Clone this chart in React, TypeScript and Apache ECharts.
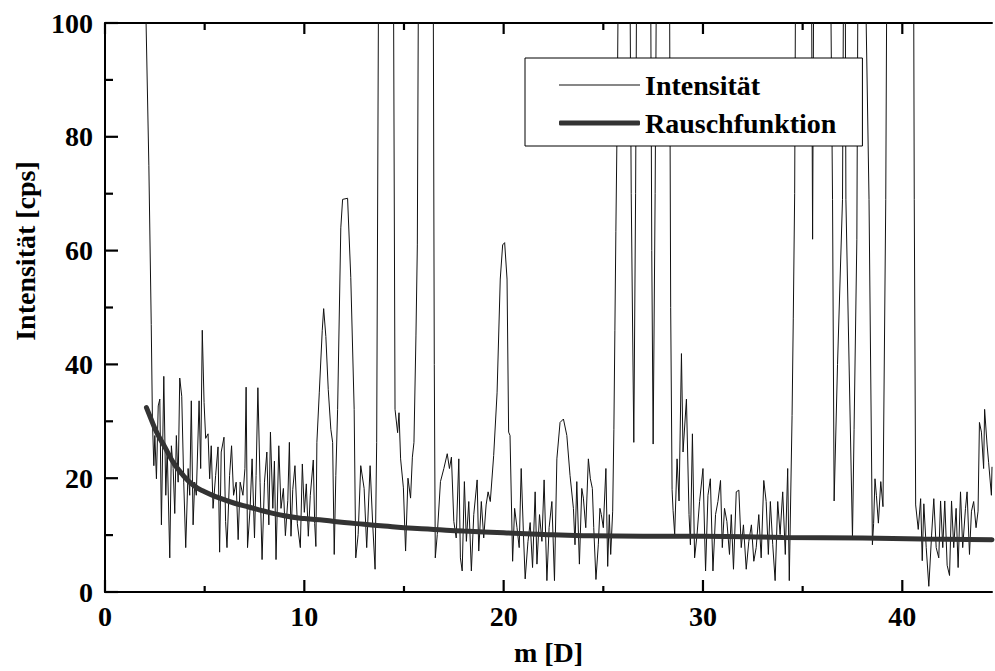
import React, { useEffect, useRef } from "react";
import * as echarts from "echarts";

// x-axis ticks (m [D]) and y-axis ticks (Intensität [cps])
const xTickLabels = [0, 10, 20, 30, 40];
const xMinorTicks = [5, 15, 25, 35];
const yTickLabels = [0, 20, 40, 60, 80, 100];
const yMinorTicks = [10, 30, 50, 70, 90];

// Intensität: measured trace, [m, cps]; values above 100 leave the plot
const intensityA: [number, number][] = [
  [2.0, 130], [2.05, 102], [2.2, 75], [2.32, 47], [2.38, 30], [2.45, 22.2], [2.5, 27.5], [2.58, 19.9],
  [2.67, 32.7], [2.75, 33.9], [2.83, 11.8], [2.95, 37.9], [3.05, 17], [3.12, 25.2], [3.25, 6],
  [3.33, 25.7], [3.42, 21.7], [3.5, 13.8], [3.58, 27.5], [3.67, 19.3], [3.75, 37.6], [3.85, 34.4],
  [3.95, 19.3], [4.05, 7.8], [4.17, 21.7], [4.25, 17], [4.33, 33.6], [4.42, 11.8], [4.5, 19.3],
  [4.58, 17], [4.72, 33.6], [4.8, 21.7], [4.88, 46], [4.97, 33.3], [5.05, 27], [5.17, 27.8],
  [5.25, 19.9], [5.33, 25.7], [5.42, 14.7], [5.55, 20.5], [5.67, 25.5], [5.75, 7], [5.83, 24.6],
  [5.97, 27.2], [6.05, 12.4], [6.12, 7.8], [6.25, 20.5], [6.35, 25.7], [6.45, 17], [6.58, 19.3],
  [6.68, 9.2], [6.78, 19.3], [6.92, 17], [7.02, 21.7], [7.08, 36], [7.15, 7.8], [7.28, 14.7],
  [7.38, 23.4], [7.5, 9.5], [7.58, 20.5], [7.67, 35.9], [7.78, 19.3], [7.88, 5.7], [8.0, 19.3],
  [8.12, 24.6], [8.22, 11.8], [8.3, 28.1], [8.42, 14.7], [8.5, 23], [8.58, 5.7], [8.72, 25.7],
  [8.83, 14.7], [8.95, 18.2], [9.05, 9.9], [9.17, 16.1],
];
const intensityB: [number, number][] = [
  [9.25, 26.3], [9.33, 9.8], [9.42, 18], [9.53, 22.2], [9.65, 12], [9.8, 7.8], [9.9, 22.5],
  [10.0, 14], [10.1, 19], [10.2, 9.8], [10.3, 17], [10.45, 23.2], [10.52, 12], [10.58, 8],
  [10.63, 26.3], [10.75, 35], [10.9, 46], [10.97, 49.8], [11.08, 44.9], [11.2, 35.6], [11.33, 28.6],
  [11.42, 26.3], [11.5, 6.6], [11.58, 20.5], [11.67, 32.1], [11.83, 64], [11.92, 69], [12.17, 69.2],
  [12.33, 55.3], [12.5, 32.1], [12.58, 6], [12.7, 10.1], [12.83, 22.2], [13.0, 18.2], [13.13, 7.8],
  [13.3, 22.2], [13.43, 11.9], [13.55, 4], [13.63, 26.3],
];
const intensityC: [number, number][] = [
  [13.75, 130], [14.45, 130], [14.55, 32.1], [14.68, 28], [14.75, 31.5], [14.83, 23.4], [14.97, 18.3],
  [15.08, 7.2], [15.2, 20], [15.33, 16.5], [15.42, 23.7], [15.5, 26.3], [15.6, 45], [15.67, 61],
  [15.75, 130], [16.45, 130], [16.52, 40], [16.57, 6], [16.67, 10.1],
];
const intensityD: [number, number][] = [
  [16.83, 19.4], [17.0, 21.7], [17.17, 24.3], [17.28, 21.7], [17.38, 23.7], [17.5, 12.4], [17.62, 9.5],
  [17.75, 23.4], [17.83, 6], [17.92, 3.7], [18.03, 19.4], [18.13, 8.9], [18.25, 15.9], [18.38, 3.7],
  [18.5, 13.6], [18.67, 19.7], [18.75, 7.2], [18.88, 15.9], [19.0, 9.5], [19.12, 15.3], [19.22, 17.6],
  [19.33, 15.9], [19.5, 24], [19.67, 35], [19.83, 55], [19.95, 61], [20.05, 61.4], [20.17, 55],
  [20.25, 28.1], [20.32, 27.5], [20.45, 5.4], [20.55, 14.7], [20.67, 11.3], [20.78, 7.8], [20.88, 21.7],
  [21.0, 9.5], [21.08, 2.3], [21.22, 8.9], [21.33, 12.2], [21.45, 4.3], [21.58, 17.6], [21.67, 4.9],
  [21.8, 13.6], [21.92, 8.9], [22.03, 19.7], [22.17, 2], [22.28, 11.3], [22.42, 15.9], [22.55, 2],
  [22.67, 23.4], [22.83, 29.8], [23.0, 30.4], [23.17, 27.5], [23.33, 20.5], [23.5, 14.7], [23.58, 8.3],
  [23.67, 19.4],
];
const intensityE: [number, number][] = [
  [23.8, 4.9], [23.92, 18.2], [24.0, 16.5], [24.12, 11.3], [24.25, 23.4], [24.35, 19.9], [24.45, 18.2],
  [24.52, 11.3], [24.63, 2.2], [24.75, 8.4], [24.83, 14.7], [24.9, 13.6], [25.0, 11.3], [25.13, 21.7],
  [25.22, 4.5], [25.3, 13.6], [25.37, 6.6], [25.47, 14.2], [25.53, 28.6], [25.58, 46], [25.63, 63.4],
  [25.7, 85], [25.8, 130], [26.3, 130], [26.4, 70], [26.53, 26.3], [26.62, 70], [26.7, 130],
  [27.35, 130], [27.43, 60], [27.5, 26], [27.6, 70], [27.7, 130], [28.3, 130], [28.38, 50],
  [28.45, 18], [28.5, 14.3], [28.58, 10.1],
];
const intensityF: [number, number][] = [
  [28.7, 23.4], [28.8, 16], [28.92, 41.9], [29.0, 24.6], [29.17, 33.9], [29.3, 13.6], [29.37, 8.3],
  [29.47, 27.8], [29.58, 6], [29.7, 10], [29.83, 15.9], [30.0, 21.7], [30.13, 3.7], [30.25, 17],
  [30.37, 19.9], [30.5, 3.7], [30.63, 13.6], [30.75, 15.9], [30.88, 19.6], [30.97, 7.8], [31.08, 14.7],
  [31.2, 12.4], [31.33, 6.6], [31.42, 13.6], [31.53, 4], [31.67, 17.6], [31.8, 17.9], [31.92, 7.8],
  [32.03, 11.8], [32.17, 4], [32.3, 8.9], [32.43, 11.8], [32.55, 5.4], [32.67, 7.8], [32.8, 13.6],
  [32.92, 6], [33.05, 19.6], [33.17, 15.9], [33.28, 6.6], [33.38, 15.9], [33.5, 8.3], [33.62, 2],
  [33.75, 15.9], [33.87, 10.1], [34.0, 17.6], [34.13, 6.6], [34.25, 21.7], [34.33, 2], [34.47, 31],
  [34.53, 48], [34.6, 70],
];
const intensityG: [number, number][] = [
  [34.67, 130], [35.42, 130], [35.5, 62], [35.58, 130], [36.35, 130], [36.5, 69], [36.58, 16],
  [36.75, 40], [37.0, 69], [37.08, 130], [37.12, 130], [37.17, 69], [37.5, 9.5], [37.58, 28.6],
  [37.72, 62], [37.8, 130], [38.05, 130], [38.33, 69], [38.5, 8.3], [38.56, 12], [38.63, 19.9],
  [38.7, 17], [38.8, 12.1], [38.92, 19.4], [39.03, 15], [39.17, 69], [39.25, 130], [40.55, 130],
  [40.6, 69], [40.67, 15.3],
];
const intensityH: [number, number][] = [
  [40.8, 11], [40.92, 16.4], [41.0, 5.5], [41.08, 15.5], [41.2, 7.8], [41.33, 1], [41.47, 10],
  [41.58, 16.4], [41.7, 7.8], [41.83, 6], [41.92, 16], [42.03, 7.8], [42.13, 16], [42.25, 4.7],
  [42.37, 2.9], [42.47, 16], [42.58, 7.8], [42.7, 14.7], [42.8, 4.3], [42.92, 17.6], [43.03, 7.8],
  [43.17, 14.7], [43.25, 17.6], [43.37, 6.6], [43.47, 14.2], [43.58, 15.9], [43.7, 11.3], [43.8, 14.2],
  [43.87, 29.8], [43.97, 28.1], [44.08, 21.7], [44.13, 32.1], [44.25, 26], [44.33, 22.8], [44.47, 17],
  [44.5, 22],
];

// Rauschfunktion: fitted noise function, [m, cps]
const noiseFunction: [number, number][] = [
  [2.08, 32.4], [2.3, 30.5], [2.6, 28], [3.0, 25.5], [3.42, 22.8], [3.8, 21], [4.42, 18.8], [5.0, 17.6],
  [5.75, 16.5], [6.5, 15.6], [7.25, 14.9], [8.0, 14.2], [9.0, 13.4], [10.0, 12.9], [11.0, 12.6],
  [12.0, 12.2], [13.0, 11.9], [14.0, 11.6], [15.0, 11.3], [16.5, 11.0], [18.0, 10.7], [20.0, 10.4],
  [22.0, 10.1], [24.0, 9.9], [27.0, 9.8], [30.0, 9.8], [34.0, 9.6], [38.0, 9.5], [41.0, 9.3],
  [44.5, 9.2],
];

const FONT = "'Liberation Serif', 'Times New Roman', Times, serif";
const TICK_COLOR = "#000";

function tickSeries(name: string, data: number[][], dx: number, dy: number) {
  return {
    name,
    type: "custom",
    xAxisIndex: 0,
    yAxisIndex: 0,
    clip: false,
    silent: true,
    z: 10,
    data,
    renderItem: (_params: any, api: any) => {
      const p = api.coord([api.value(0), api.value(1)]);
      return {
        type: "line",
        shape: { x1: p[0], y1: p[1], x2: p[0] + dx, y2: p[1] + dy },
        style: { stroke: TICK_COLOR, lineWidth: 2.2 },
      };
    },
  };
}

export default function App() {
  const ref = useRef<HTMLDivElement>(null);
  useEffect(() => {
    if (!ref.current) return;
    const chart = echarts.init(ref.current, undefined, { renderer: "svg" });
    const intensity = [
      ...intensityA, ...intensityB, ...intensityC, ...intensityD,
      ...intensityE, ...intensityF, ...intensityG, ...intensityH,
    ];
    const xMin = xTickLabels[0];
    const xMax = 44.5;
    const yMin = yTickLabels[0];
    const yMax = yTickLabels[yTickLabels.length - 1];

    const lineBlack = { color: "#000", width: 2 };
    chart.setOption({
      animation: false,
      backgroundColor: "#fff",
      grid: { left: 105, right: 0, top: 23, bottom: 73 },
      legend: {
        left: 525,
        top: 58,
        orient: "vertical",
        padding: [13, 26, 9, 34],
        itemGap: 10,
        itemWidth: 81,
        itemHeight: 5,
        backgroundColor: "#fff",
        borderColor: "#000",
        borderWidth: 1,
        borderRadius: 0,
        textStyle: { fontFamily: FONT, fontWeight: "bold", fontSize: 28, color: "#000" },
        data: [
          { name: "Intensität", icon: "path://M0,0 L81,0 L81,1 L0,1 Z", itemStyle: { color: "#111" } },
          { name: "Rauschfunktion", icon: "roundRect", itemStyle: { color: "#333" } },
        ],
      },
      xAxis: [
        {
          type: "value",
          min: xMin,
          max: xMax,
          interval: 10,
          splitLine: { show: false },
          axisLine: { show: true, lineStyle: lineBlack },
          axisTick: { show: false },
          axisLabel: {
            show: true,
            margin: 10,
            fontFamily: FONT,
            fontWeight: "bold",
            fontSize: 28,
            color: "#000",
            formatter: (v: number) => (xTickLabels.indexOf(v) >= 0 ? String(v) : ""),
          },
          name: "m [D]",
          nameLocation: "middle",
          nameGap: 46,
          nameTextStyle: { fontFamily: FONT, fontWeight: "bold", fontSize: 28, color: "#000" },
        },
        {
          type: "value",
          min: xMin,
          max: xMax,
          position: "top",
          interval: 10,
          splitLine: { show: false },
          axisLine: { show: true, lineStyle: lineBlack },
          axisTick: { show: false },
          axisLabel: { show: false },
        },
      ],
      yAxis: [
        {
          type: "value",
          min: yMin,
          max: yMax,
          interval: 20,
          splitLine: { show: false },
          axisLine: { show: true, lineStyle: lineBlack },
          axisTick: { show: false },
          axisLabel: {
            show: true,
            margin: 12,
            fontFamily: FONT,
            fontWeight: "bold",
            fontSize: 28,
            color: "#000",
          },
        },
      ],
      graphic: [
        {
          type: "text",
          x: 25,
          y: 251,
          rotation: Math.PI / 2,
          style: {
            text: "Intensität [cps]",
            font: `bold 28px ${FONT}`,
            fill: "#000",
            textAlign: "center",
            textVerticalAlign: "middle",
          },
        },
      ],
      series: [
        {
          name: "Intensität",
          type: "line",
          data: intensity,
          symbol: "none",
          showSymbol: false,
          clip: true,
          lineStyle: { color: "#111", width: 1 },
          itemStyle: { color: "#111" },
          z: 2,
        },
        {
          name: "Rauschfunktion",
          type: "line",
          data: noiseFunction,
          smooth: true,
          symbol: "none",
          showSymbol: false,
          clip: true,
          lineStyle: { color: "#333", width: 5, cap: "round" },
          itemStyle: { color: "#333" },
          z: 3,
        },
        tickSeries("xMajorBottom", xTickLabels.map((v) => [v, yMin]), 0, -12),
        tickSeries("xMinorBottom", xMinorTicks.map((v) => [v, yMin]), 0, -6),
        tickSeries("xMajorTop", xTickLabels.map((v) => [v, yMax]), 0, 11),
        tickSeries("xMinorTop", xMinorTicks.map((v) => [v, yMax]), 0, 7),
        tickSeries("yMajorLeft", yTickLabels.map((v) => [xMin, v]), 13, 0),
        tickSeries("yMinorLeft", yMinorTicks.map((v) => [xMin, v]), 8, 0),
      ],
    });
    return () => chart.dispose();
  }, []);
  return <div ref={ref} style={{ position: "absolute", left: 0, top: 0, width: 995, height: 671 }} />;
}
